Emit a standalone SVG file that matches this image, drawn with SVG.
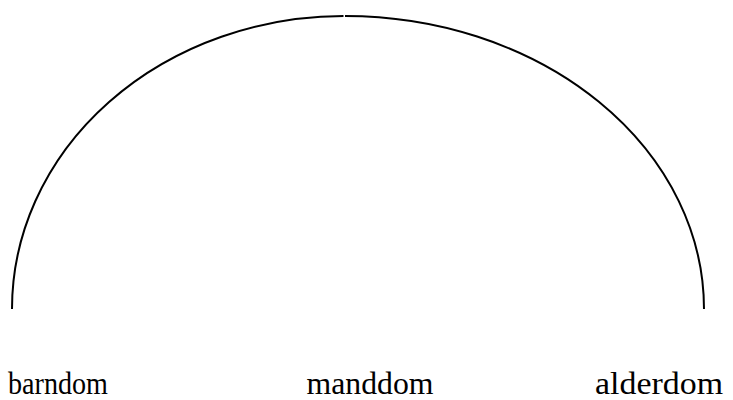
<svg xmlns="http://www.w3.org/2000/svg" width="733" height="400" viewBox="0 0 733 400">
<style>
.arc{fill:none;stroke:#000;stroke-width:2}
.lbl{font-family:"Liberation Serif","DejaVu Serif",serif;font-size:31px;fill:#000;text-anchor:middle}
</style>
<rect width="733" height="400" fill="#fff"/>
<g id="connectors">
<path class="arc" d="M 12 309 A 332 293 0 0 1 343.5 16"/>
<path class="arc" d="M 345 16 A 359 293 0 0 1 704 309"/>
</g>
<g id="barndom"><text class="lbl" x="58" y="394" textLength="100" lengthAdjust="spacingAndGlyphs">barndom</text></g>
<g id="manddom"><text class="lbl" x="370" y="394" textLength="127" lengthAdjust="spacingAndGlyphs">manddom</text></g>
<g id="alderdom"><text class="lbl" x="659" y="394" textLength="128" lengthAdjust="spacingAndGlyphs">alderdom</text></g>
</svg>
